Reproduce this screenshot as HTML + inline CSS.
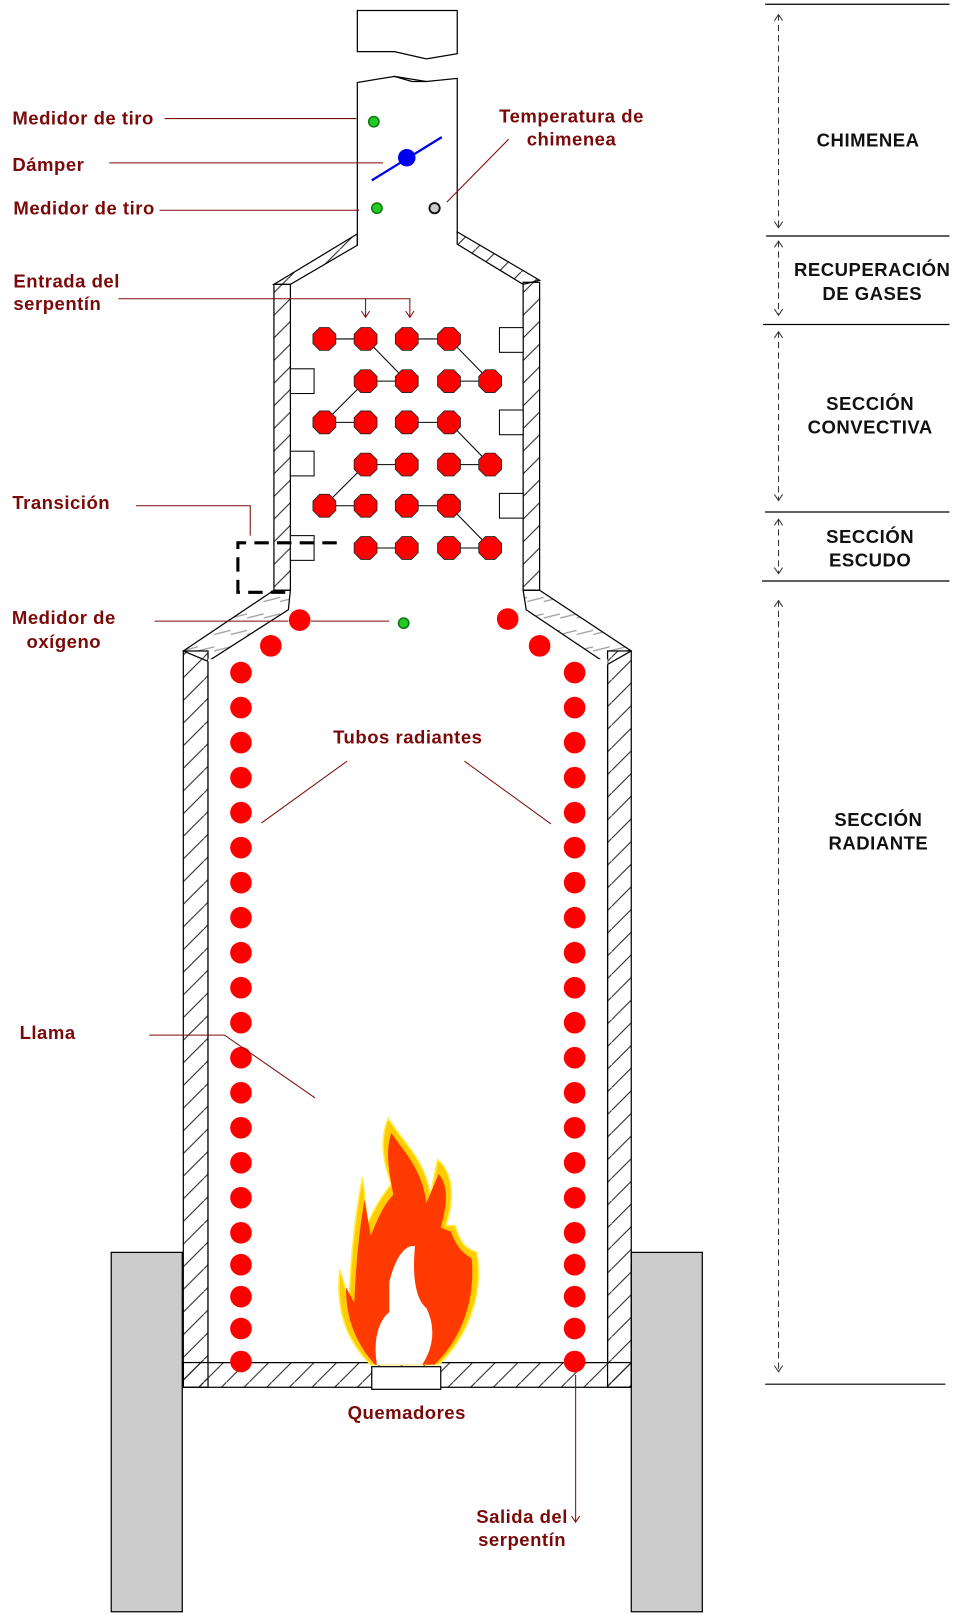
<!DOCTYPE html>
<html><head><meta charset="utf-8"><style>
html,body{margin:0;padding:0;background:#fff;}
svg{display:block;}
.lbl{font-family:"Liberation Sans","DejaVu Sans",sans-serif;font-weight:bold;font-size:18px;fill:#7a0a0a;letter-spacing:0.5px;}
.sec{font-family:"Liberation Sans","DejaVu Sans",sans-serif;font-weight:bold;font-size:18px;fill:#111;text-anchor:middle;letter-spacing:0.5px;}
</style></head><body>
<svg id="svg" width="968" height="1615" viewBox="0 0 940 1568" xmlns="http://www.w3.org/2000/svg">
<defs>
<pattern id="hatch" patternUnits="userSpaceOnUse" width="22" height="22">
<line x1="0" y1="22" x2="22" y2="0" stroke="#222" stroke-width="1"/>
</pattern>
<pattern id="hatchg" patternUnits="userSpaceOnUse" width="16" height="16">
<line x1="0" y1="8" x2="16" y2="4" stroke="#999" stroke-width="1.2"/>
</pattern>
<marker id="arr" markerWidth="12" markerHeight="12" refX="9" refY="5" orient="auto" markerUnits="userSpaceOnUse"><path d="M3,1 L9,5 L3,9" fill="none" stroke="#7a0a0a" stroke-width="1"/></marker>
<marker id="ae" markerWidth="12" markerHeight="12" refX="9" refY="5" orient="auto" markerUnits="userSpaceOnUse"><path d="M3,1 L9,5 L3,9" fill="none" stroke="#333" stroke-width="1"/></marker>
<marker id="as" markerWidth="12" markerHeight="12" refX="1" refY="5" orient="auto" markerUnits="userSpaceOnUse"><path d="M7,1 L1,5 L7,9" fill="none" stroke="#333" stroke-width="1"/></marker>
</defs>

<rect x="108" y="1216" width="69" height="349" fill="#cccccc" stroke="#000" stroke-width="1.2"/>
<rect x="613" y="1216" width="69" height="349" fill="#cccccc" stroke="#000" stroke-width="1.2"/>

<g fill="#fff" stroke="#000" stroke-width="1.2">
<path d="M347,10 L444,10 L444,52 L414,57 L383,50 L347,50 Z"/>
<path d="M347,80 L383,74 L414,79 L444,76 L444,227 L347,227 Z" stroke="none"/>
<path d="M347,238 L347,80 L383,74 L414,79 L444,76 L444,227"/>
<path d="M383,74 L400,79 L414,79" fill="none"/>
</g>

<g stroke="#000" stroke-width="1.2">
<path d="M347,227 L266,276 L282,276 L347,238 Z" fill="url(#hatch)"/>
<path d="M444,225 L524,272 L508,276 L444,237 Z" fill="url(#hatch)"/>
</g>

<rect x="266" y="276" width="16" height="297" fill="url(#hatch)" stroke="#000" stroke-width="1.2"/>
<rect x="508" y="274" width="16" height="299" fill="url(#hatch)" stroke="#000" stroke-width="1.2"/>

<path d="M266,573 L282,573 L280,592 L202,642 L178,632 Z" fill="url(#hatchg)" stroke="#000" stroke-width="1.2"/>
<path d="M508,573 L524,573 L613,632 L590,645 L511,592 Z" fill="url(#hatchg)" stroke="#000" stroke-width="1.2"/>

<rect x="178" y="632" width="24" height="715" fill="url(#hatch)" stroke="#000" stroke-width="1.2"/>
<rect x="590" y="632" width="23" height="715" fill="url(#hatch)" stroke="#000" stroke-width="1.2"/>
<rect x="178" y="1323" width="435" height="24" fill="url(#hatch)" stroke="#000" stroke-width="1.2"/>
<rect x="202" y="640" width="388" height="683" fill="#fff"/>
<line x1="202" y1="642" x2="202" y2="1323" stroke="#000" stroke-width="1.2"/>
<line x1="590" y1="645" x2="590" y2="1323" stroke="#000" stroke-width="1.2"/>
<line x1="202" y1="1323" x2="590" y2="1323" stroke="#000" stroke-width="1.2"/>
<rect x="361" y="1327" width="67" height="22" fill="#fff" stroke="#000" stroke-width="1.2"/>

<g fill="#fff" stroke="#000" stroke-width="1">
<rect x="282" y="358" width="23" height="24"/><rect x="282" y="438" width="23" height="24"/><rect x="282" y="520" width="23" height="24"/>
<rect x="485" y="318" width="23" height="24"/><rect x="485" y="398" width="23" height="24"/><rect x="485" y="479" width="23" height="24"/>
</g>

<g id="conv"></g>
<g id="rad"></g>

<g>
<path d="M360,1325 C335,1300 326,1270 330,1233 L339,1262 C341,1220 344,1185 352,1143 L357,1188 C365,1170 372,1160 380,1150 C371,1125 369,1105 377,1086 C392,1110 412,1125 418,1160 L425,1126 C441,1140 441,1165 433,1190 L442,1190 C446,1204 450,1212 463,1216 C470,1260 452,1300 426,1325 Z" fill="#ffcc00" stroke="#ffee44" stroke-width="1.5"/>
<path d="M364,1325 C342,1300 336,1275 336,1250 L344,1265 C346,1225 348,1200 354,1165 L360,1200 C368,1180 374,1168 382,1160 C376,1130 375,1115 380,1100 C392,1118 410,1135 414,1168 L426,1140 C436,1152 434,1170 428,1192 L438,1196 C442,1208 448,1216 458,1222 C462,1262 448,1300 422,1325 Z" fill="#ff3a00"/>
<path d="M366,1325 C362,1300 368,1282 378,1274 L378,1245 C384,1220 394,1208 403,1210 C400,1240 404,1262 414,1270 C424,1290 420,1310 410,1325 Z" fill="#fff"/>
</g>

<circle cx="363" cy="118" r="5" fill="#22cc22" stroke="#117711" stroke-width="1.5"/>
<circle cx="366" cy="202" r="5" fill="#22cc22" stroke="#117711" stroke-width="1.5"/>
<circle cx="422" cy="202" r="5" fill="#ccc" stroke="#111" stroke-width="1.8"/>
<circle cx="392" cy="605" r="5" fill="#22cc22" stroke="#117711" stroke-width="1.5"/>
<g>
<line x1="361" y1="175" x2="429" y2="133" stroke="#0000ee" stroke-width="2.2"/>
<circle cx="395" cy="153" r="8.5" fill="#0000ee"/>
</g>

<path d="M327,527 L231,527 L231,575 L278,575" fill="none" stroke="#000" stroke-width="3" stroke-dasharray="14,8"/>

<g fill="none" stroke="#7a0a0a" stroke-width="1">
<line x1="160" y1="115" x2="346" y2="115"/>
<line x1="106" y1="158" x2="372" y2="158"/>
<line x1="155" y1="204" x2="349" y2="204"/>
<line x1="494" y1="135" x2="434" y2="196"/>
<path d="M115,290 L398,290 L398,308" marker-end="url(#arr)"/>
<path d="M355,290 L355,308" marker-end="url(#arr)"/>
<path d="M132,491 L243,491 L243,520"/>
<line x1="150" y1="603" x2="280" y2="603"/>
<line x1="302" y1="603" x2="378" y2="603"/>
<line x1="337" y1="739" x2="254" y2="799"/>
<line x1="451" y1="739" x2="535" y2="800"/>
<path d="M145,1005 L218,1005 L306,1066"/>
<path d="M559,1335 L559,1478" marker-end="url(#arr)"/>
</g>

<text class="lbl" x="12" y="121">Medidor de tiro</text>
<text class="lbl" x="12" y="166">Dámper</text>
<text class="lbl" x="13" y="208">Medidor de tiro</text>
<text class="lbl" x="555" y="119" text-anchor="middle">Temperatura de</text>
<text class="lbl" x="555" y="141" text-anchor="middle">chimenea</text>
<text class="lbl" x="13" y="279">Entrada del</text>
<text class="lbl" x="13" y="301">serpentín</text>
<text class="lbl" x="12" y="494">Transición</text>
<text class="lbl" x="62" y="606" text-anchor="middle">Medidor de</text>
<text class="lbl" x="62" y="629" text-anchor="middle">oxígeno</text>
<text class="lbl" x="396" y="722" text-anchor="middle">Tubos radiantes</text>
<text class="lbl" x="19" y="1009">Llama</text>
<text class="lbl" x="395" y="1378" text-anchor="middle">Quemadores</text>
<text class="lbl" x="507" y="1479" text-anchor="middle">Salida del</text>
<text class="lbl" x="507" y="1501" text-anchor="middle">serpentín</text>

<g stroke="#000" stroke-width="1.2">
<line x1="743" y1="4" x2="922" y2="4"/>
<line x1="744" y1="229" x2="922" y2="229"/>
<line x1="741" y1="315" x2="922" y2="315"/>
<line x1="743" y1="497" x2="922" y2="497"/>
<line x1="740" y1="564" x2="922" y2="564"/>
<line x1="743" y1="1344" x2="918" y2="1344"/>
</g>
<g stroke="#333" stroke-width="1" stroke-dasharray="6,4" fill="none">
<line x1="756" y1="14" x2="756" y2="221" marker-start="url(#as)" marker-end="url(#ae)"/>
<line x1="756" y1="234" x2="756" y2="306" marker-start="url(#as)" marker-end="url(#ae)"/>
<line x1="756" y1="322" x2="756" y2="486" marker-start="url(#as)" marker-end="url(#ae)"/>
<line x1="756" y1="504" x2="756" y2="557" marker-start="url(#as)" marker-end="url(#ae)"/>
<line x1="756" y1="583" x2="756" y2="1332" marker-start="url(#as)" marker-end="url(#ae)"/>
</g>
<text class="sec" x="843" y="142">CHIMENEA</text>
<text class="sec" x="847" y="268">RECUPERACIÓN</text>
<text class="sec" x="847" y="291">DE GASES</text>
<text class="sec" x="845" y="398">SECCIÓN</text>
<text class="sec" x="845" y="421">CONVECTIVA</text>
<text class="sec" x="845" y="527">SECCIÓN</text>
<text class="sec" x="845" y="550">ESCUDO</text>
<text class="sec" x="853" y="802">SECCIÓN</text>
<text class="sec" x="853" y="825">RADIANTE</text>
</svg>
<script>
const convCols = [315, 355, 395, 436, 476];
const convRowY = [329, 370, 410, 451, 491, 532];
const convRowStart = [0, 1, 0, 1, 0, 1];
const convLinks = [[0,1],[2,3]];
const convDiag = [[0,1,1,2],[0,3,1,4],[1,1,2,0],[2,3,3,4],[3,1,4,0],[4,3,5,4]];
const radY = [653,687,721,755,789,823,857,891,925,959,993,1027,1061,1095,1129,1163,1197,1228,1259,1290,1322];
const radX = [234, 558];
const shoulderTubes = [[291,602],[263,627],[493,601],[524,627]];
const NS = 'http://www.w3.org/2000/svg';
const conv = document.getElementById('conv');
const rad = document.getElementById('rad');
function oct(cx, cy, r) {
  let p = [];
  for (let i = 0; i < 8; i++) { const a = Math.PI / 8 + i * Math.PI / 4; p.push((cx + r * Math.cos(a)).toFixed(1) + ',' + (cy + r * Math.sin(a)).toFixed(1)); }
  return p.join(' ');
}
function pos(row, col) { return [convCols[col], convRowY[row]]; }
convDiag.forEach(d => {
  const a = pos(d[0], d[1]), b = pos(d[2], d[3]);
  const l = document.createElementNS(NS, 'line');
  l.setAttribute('x1', a[0]); l.setAttribute('y1', a[1]); l.setAttribute('x2', b[0]); l.setAttribute('y2', b[1]);
  l.setAttribute('stroke', '#000'); l.setAttribute('stroke-width', '1');
  
  
  conv.appendChild(l);
});
convRowY.forEach((y, r) => {
  const s = convRowStart[r];
  convLinks.forEach(k => {
    const l = document.createElementNS(NS, 'line');
    l.setAttribute('x1', convCols[s + k[0]]); l.setAttribute('y1', y); l.setAttribute('x2', convCols[s + k[1]]); l.setAttribute('y2', y);
    l.setAttribute('stroke', '#000'); l.setAttribute('stroke-width', '1');
    
    
    conv.appendChild(l);
  });
  for (let c = 0; c < 4; c++) {
    const p = document.createElementNS(NS, 'polygon');
    p.setAttribute('points', oct(convCols[s + c], y, 12));
    p.setAttribute('fill', '#ff0000'); p.setAttribute('stroke', '#222'); p.setAttribute('stroke-width', '0.8');
    
    
    conv.appendChild(p);
  }
});
radX.forEach(x => radY.forEach(y => {
  const c = document.createElementNS(NS, 'circle');
  c.setAttribute('cx', x); c.setAttribute('cy', y); c.setAttribute('r', 10.5); c.setAttribute('fill', '#ff0000');
  
  
  rad.appendChild(c);
}));
shoulderTubes.forEach(t => {
  const c = document.createElementNS(NS, 'circle');
  c.setAttribute('cx', t[0]); c.setAttribute('cy', t[1]); c.setAttribute('r', 10.5); c.setAttribute('fill', '#ff0000');
  
  
  rad.appendChild(c);
});
</script>
</body></html>
